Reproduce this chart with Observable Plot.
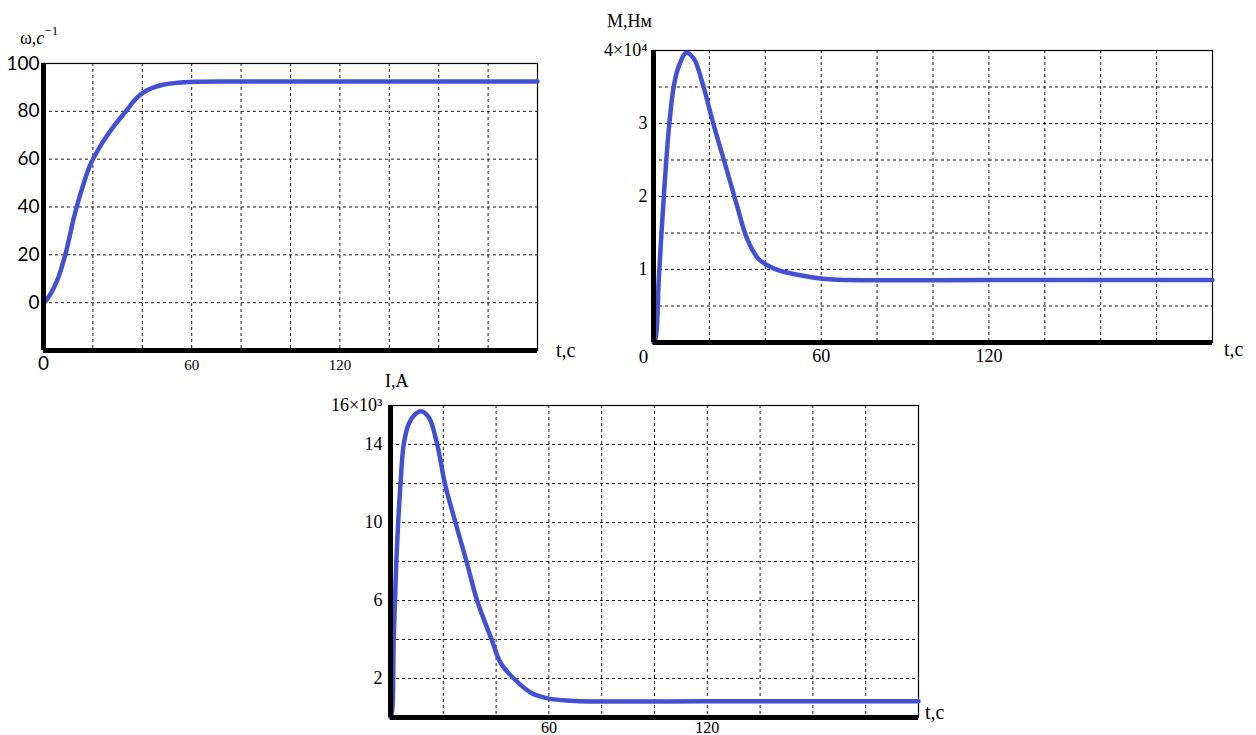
<!DOCTYPE html>
<html>
<head>
<meta charset="utf-8">
<script src="https://cdn.jsdelivr.net/npm/d3@7"></script>
<script src="https://cdn.jsdelivr.net/npm/@observablehq/plot@0.6"></script>
<style>
  html, body { margin: 0; padding: 0; background: #fff; }
  #root { position: relative; width: 1256px; height: 735px; overflow: hidden; background: #fff; }
  .pane { position: absolute; }
  .lbl { position: absolute; font-family: "Liberation Serif", serif; color: #000; white-space: nowrap; line-height: 1; }
  .lbl sup { font-size: 0.72em; position: relative; top: -0.15em; }
</style>
</head>
<body>
<div id="root"></div>
<script>
// ---------- data ----------
const tW = [0, 1.2, 5.5, 8.9, 12.3, 15.7, 19, 23.8, 28.5, 33.9, 36.5, 39.3, 42, 44.7, 48, 52.8, 62, 80, 120, 160, 200];
const wVals = [0, 1.1, 9.2, 20.3, 35.5, 48, 57.8, 66.8, 73.8, 80.7, 84.2, 87, 88.8, 90, 91, 91.8, 92.4, 92.5, 92.5, 92.5, 92.5];

const tM = [0, 0.8, 1.9, 3.7, 5.5, 7.3, 9.1, 11.7, 14.4, 17.4, 21.6, 25.8, 29.9, 33.5, 37.7, 43.6, 52, 61.5, 70, 120, 160, 200];
const mVals = [0, 700, 8700, 20100, 29300, 35200, 37900, 39700, 38900, 35700, 29700, 24200, 18700, 14200, 11400, 10060, 9240, 8690, 8560, 8550, 8550, 8550];

const tI = [0, 0.6, 1.2, 1.7, 2.2, 2.9, 3.8, 5, 6.9, 9, 11.4, 14.5, 17.7, 20.6, 24.6, 28.8, 32.8, 38.3, 41.7, 46.7, 53.7, 60, 70, 120, 160, 200];
const iVals = [0, 300, 4000, 6000, 8000, 10000, 12000, 14000, 15060, 15500, 15710, 15400, 14000, 12000, 10000, 8000, 6000, 4000, 2800, 2000, 1230, 970, 850, 830, 830, 830];

// grid & tick labels
const gridT = [20, 40, 60, 80, 100, 120, 140, 160, 180];
const gridW = [0, 20, 40, 60, 80];
const ticksW = [0, 20, 40, 60, 80, 100];
const gridM = [5000, 10000, 15000, 20000, 25000, 30000, 35000];
const ticksM = [10000, 20000, 30000, 40000];
const gridI = [2000, 4000, 6000, 8000, 10000, 12000, 14000];
const ticksI = [2000, 6000, 10000, 14000, 16000];
const ticksT = [60, 120];

const titles = {
  w: "ω,<i>c</i><sup>−1</sup>",
  m: "M,Нм",
  i: "I,A",
  t: "t,c"
};

const BLUE = "#4450d2";
const rows = (t, v) => t.map((d, k) => ({t: d, v: v[k]}));

const root = document.getElementById("root");
function place(node, left, top, width) {
  const d = document.createElement("div");
  d.className = "pane";
  d.style.left = left + "px"; d.style.top = top + "px"; d.style.width = width + "px";
  d.appendChild(node);
  root.appendChild(d);
}
function label(html, left, top, size) {
  const d = document.createElement("div");
  d.className = "lbl";
  d.style.left = left + "px"; d.style.top = top + "px"; d.style.fontSize = size + "px";
  d.innerHTML = html;
  root.appendChild(d);
}

function baseMarks(gx, gy) {
  return [
    Plot.gridX(gx, {stroke: "#000", strokeOpacity: 0.9, strokeWidth: 1, strokeDasharray: "3,3"}),
    Plot.gridY(gy, {stroke: "#000", strokeOpacity: 0.9, strokeWidth: 1, strokeDasharray: "3,3"}),
    Plot.frame({stroke: "#000", strokeWidth: 1.2})
  ];
}

// ---------- chart 1: omega ----------
const c1 = Plot.plot({
  width: 600, height: 360,
  marginLeft: 43, marginRight: 63, marginTop: 43, marginBottom: 30,
  x: {domain: [0, 200]},
  y: {domain: [-20, 100]},
  style: {fontFamily: "Liberation Serif", fontSize: "17px", color: "#000", background: "transparent", overflow: "visible"},
  marks: [
    ...baseMarks(gridT, gridW),
    Plot.line(rows(tW, wVals), {x: "t", y: "v", stroke: BLUE, strokeWidth: 4.5, curve: "catmull-rom"}),
    Plot.ruleX([0], {stroke: "#000", strokeWidth: 5}),
    Plot.ruleY([-20], {stroke: "#000", strokeWidth: 5}),
    Plot.axisY(ticksW, {label: null, tickSize: 0, tickPadding: 4, fontFamily: "Lato", fontSize: 19}),
    Plot.axisX([0], {label: null, tickSize: 0, tickPadding: 6, fontFamily: "Lato", fontSize: 19}),
    Plot.axisX(ticksT, {label: null, tickSize: 0, tickPadding: 9, fontFamily: "Liberation Serif", fontSize: 15})
  ]
});
place(c1, 0, 20, 600);

// ---------- chart 2: torque ----------
const fmtM = d => d === 40000 ? "4×10⁴" : String(d / 10000);
const c2 = Plot.plot({
  width: 666, height: 370,
  marginLeft: 63, marginRight: 44, marginTop: 50, marginBottom: 28,
  x: {domain: [0, 200]},
  y: {domain: [0, 40000]},
  style: {fontFamily: "Liberation Serif", fontSize: "17px", color: "#000", background: "transparent", overflow: "visible"},
  marks: [
    ...baseMarks(gridT, gridM),
    Plot.line(rows(tM, mVals), {x: "t", y: "v", stroke: BLUE, strokeWidth: 4.5, curve: "catmull-rom"}),
    Plot.ruleX([0], {stroke: "#000", strokeWidth: 5}),
    Plot.ruleY([0], {stroke: "#000", strokeWidth: 5}),
    Plot.axisY(ticksM, {label: null, tickSize: 0, tickPadding: 6, tickFormat: fmtM, fontSize: 18}),
    Plot.axisX([0], {label: null, tickSize: 0, tickPadding: 7, dx: -10, fontSize: 19}),
    Plot.axisX(ticksT, {label: null, tickSize: 0, tickPadding: 7, fontSize: 18})
  ]
});
place(c2, 590, 0, 666);

// ---------- chart 3: current ----------
const fmtI = d => d === 16000 ? "16×10³" : String(d / 1000);
const c3 = Plot.plot({
  width: 650, height: 360,
  marginLeft: 70, marginRight: 52, marginTop: 30, marginBottom: 18,
  x: {domain: [0, 200]},
  y: {domain: [0, 16000]},
  style: {fontFamily: "Liberation Serif", fontSize: "17px", color: "#000", background: "transparent", overflow: "visible"},
  marks: [
    ...baseMarks(gridT, gridI),
    Plot.line(rows(tI, iVals), {x: "t", y: "v", stroke: BLUE, strokeWidth: 4.5, curve: "catmull-rom"}),
    Plot.ruleX([0], {stroke: "#000", strokeWidth: 5}),
    Plot.ruleY([0], {stroke: "#000", strokeWidth: 5}),
    Plot.axisY(ticksI, {label: null, tickSize: 0, tickPadding: 8, tickFormat: fmtI, fontSize: 18}),
    Plot.axisX(ticksT, {label: null, tickSize: 0, tickPadding: 4, fontSize: 16})
  ]
});
place(c3, 320, 375, 650);

// ---------- axis titles ----------
label(titles.w, 20, 27, 18);
label(titles.t, 556, 340, 20);
label(titles.m, 607, 12, 18);
label(titles.t, 1224, 339, 20);
label(titles.i, 385, 372, 18);
label(titles.t, 925, 702, 20);
</script>
</body>
</html>
